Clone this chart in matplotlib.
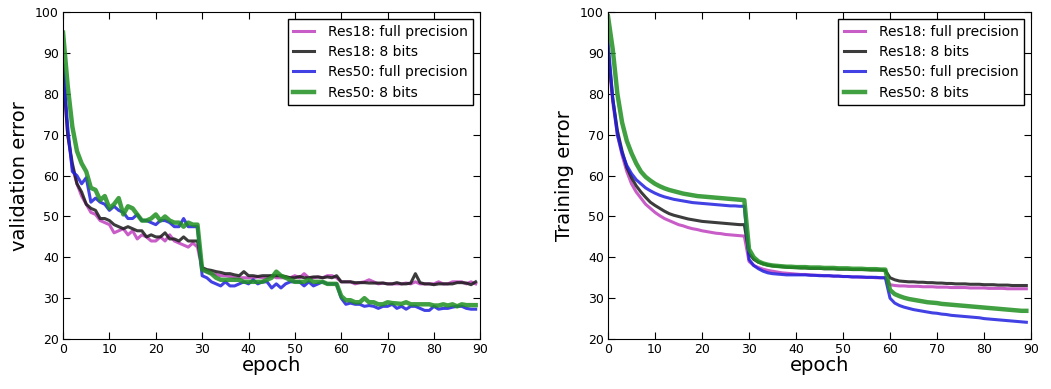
import matplotlib
matplotlib.use("Agg")
import matplotlib.pyplot as plt
import numpy as np

epochs = list(range(90))

labels = ["Res18: full precision", "Res18: 8 bits", "Res50: full precision", "Res50: 8 bits"]

val_res18_full = [85, 70, 62, 58, 55, 53, 51, 50.5, 49, 48.5,
                  48, 46, 46.5, 47, 45.5, 46.5, 44.5, 45.5, 45, 44,
                  44, 45, 44, 45.5, 44, 43.5, 43, 42.5, 43.5, 42.5,
                  37, 36.5, 36, 35.8, 35.5, 35.5, 35.3, 35, 35, 35,
                  35, 35, 35.2, 35, 35, 35.5, 35, 35, 35, 35,
                  35.5, 35, 36, 35, 35, 35.2, 35, 35.5, 35.5, 35,
                  34, 34, 34, 33.5, 33.8, 34, 34.5, 34, 33.5, 33.7,
                  33.5, 33.5, 33.5, 33.5, 33.7, 33.5, 34, 33.5, 33.5, 33.5,
                  33.5, 34, 33.5, 33.5, 34, 34, 34, 33.5, 34, 33.5]
val_res18_8bit = [86, 70, 63, 58, 56, 53, 52, 51.5, 49.5, 49.5,
                  49, 48, 47.5, 47, 47.5, 47, 46.5, 46.5, 45, 45.5,
                  45, 45, 46, 44.5, 44.5, 44, 45, 44, 44, 44,
                  37.5, 37, 36.8, 36.5, 36.3, 36, 36, 35.7, 35.5, 36.5,
                  35.5, 35.5, 35.3, 35.5, 35.5, 35.5, 35.5, 35.5, 35.3, 35,
                  35, 35.3, 35, 35, 35.2, 35.2, 35, 35.2, 35, 35.5,
                  34, 34, 34, 33.8, 33.8, 33.8, 33.7, 33.7, 33.7, 33.7,
                  33.5, 33.5, 33.8, 33.5, 33.5, 33.7, 36, 33.8, 33.5, 33.5,
                  33.3, 33.5, 33.5, 33.5, 33.5, 33.8, 33.8, 33.7, 33.3, 34]
val_res50_full = [87, 72, 61, 60, 58, 59.5, 53.5, 54.5, 53.5, 53,
                  51.5, 52.5, 51.5, 51, 49.5, 49.5, 50.5, 49, 49, 48.5,
                  48, 49, 49, 48.5, 47.5, 47.5, 49.5, 47.5, 47.5, 47.5,
                  35.5, 35, 34, 33.5, 33, 34, 33, 33, 33.5, 34,
                  33.5, 34.5, 33.5, 34, 34, 32.5, 33.5, 32.5, 33.5, 34,
                  34, 34, 33, 34, 33, 33.5, 34, 33.5, 33.5, 33.5,
                  30, 28.5, 28.8, 28.5, 28.5, 28, 28.2, 28, 27.5, 28,
                  28, 28.5, 27.5, 28, 27.3, 28, 28, 27.5, 27, 27,
                  28, 27.3, 27.5, 27.5, 27.8, 28, 28, 27.5, 27.3, 27.3]
val_res50_8bit = [95, 82, 72, 66, 63, 61, 57, 56.5, 54, 55,
                  52, 53, 54.5, 50.5, 52.5, 52, 50.5, 49, 49, 49.5,
                  50.5, 49, 50, 49, 48.5, 48.5, 47.5, 48.5, 48, 48,
                  37, 36.5, 36, 35, 34.5, 34.5, 34.5, 34.5, 34.5, 34,
                  34, 34, 34, 34, 34.5, 35, 36.5, 35.5, 35, 34.5,
                  34, 34, 34, 34.5, 34, 34, 34, 33.5, 33.5, 33.5,
                  30.5, 29.5, 29.5, 29, 29, 30, 29, 29, 28.5, 28.5,
                  29, 28.8, 28.7, 28.6, 29, 28.5, 28.5, 28.5, 28.5, 28.5,
                  28.2, 28.2, 28.5, 28.2, 28.5, 28, 28.5, 28.3, 28.3, 28.3]

tr_res18_full = [90, 78, 70, 65, 61, 58, 56, 54.5, 53, 52,
                 51, 50.2, 49.5, 49, 48.5, 48, 47.7, 47.3, 47, 46.8,
                 46.5, 46.3, 46.1, 45.9, 45.8, 45.6, 45.5, 45.4, 45.3, 45.2,
                 39, 38, 37.5, 37.1, 36.8, 36.6, 36.4, 36.2, 36.1, 36,
                 35.9, 35.8, 35.8, 35.7, 35.6, 35.6, 35.5, 35.5, 35.4, 35.4,
                 35.3, 35.3, 35.2, 35.2, 35.1, 35.1, 35.1, 35, 35, 35,
                 33.3, 33.1, 33, 33, 32.9, 32.9, 32.9, 32.8, 32.8, 32.8,
                 32.7, 32.7, 32.7, 32.6, 32.6, 32.6, 32.6, 32.5, 32.5, 32.5,
                 32.5, 32.4, 32.4, 32.4, 32.4, 32.3, 32.3, 32.3, 32.3, 32.3]
tr_res18_8bit = [91, 79, 71, 66, 62, 59.5, 57.5, 56, 54.7, 53.5,
                 52.7, 52, 51.3, 50.7, 50.3, 50, 49.7, 49.4, 49.2, 49,
                 48.8, 48.7, 48.6, 48.5, 48.4, 48.3, 48.2, 48.1, 48, 48,
                 41, 39.5, 38.8, 38.4, 38.1, 37.9, 37.8, 37.7, 37.6, 37.5,
                 37.5, 37.4, 37.4, 37.3, 37.3, 37.3, 37.2, 37.2, 37.2, 37.1,
                 37.1, 37.1, 37, 37, 37, 37, 36.9, 36.9, 36.9, 36.8,
                 35, 34.5, 34.2, 34.1, 34, 34, 33.9, 33.9, 33.8, 33.8,
                 33.7, 33.7, 33.6, 33.6, 33.5, 33.5, 33.5, 33.4, 33.4, 33.4,
                 33.3, 33.3, 33.3, 33.2, 33.2, 33.2, 33.1, 33.1, 33.1, 33.1]
tr_res50_full = [93, 79, 70, 65.5, 62.5, 60.5, 59, 58, 57, 56.3,
                 55.7, 55.2, 54.8, 54.5, 54.2, 54, 53.8, 53.6, 53.4, 53.3,
                 53.2, 53.1, 53, 52.9, 52.8, 52.7, 52.6, 52.6, 52.5, 52.5,
                 39.5, 38, 37.2, 36.6, 36.2, 36, 35.9, 35.8, 35.7, 35.7,
                 35.7, 35.7, 35.7, 35.6, 35.6, 35.5, 35.5, 35.5, 35.4, 35.4,
                 35.3, 35.3, 35.2, 35.2, 35.2, 35.1, 35.1, 35.1, 35, 35,
                 30, 28.8, 28.2, 27.8, 27.5, 27.2, 27, 26.8, 26.6, 26.4,
                 26.3, 26.1, 26, 25.8, 25.7, 25.6, 25.5, 25.4, 25.3, 25.2,
                 25, 24.9, 24.8, 24.7, 24.6, 24.5, 24.4, 24.3, 24.2, 24.1]
tr_res50_8bit = [99, 91, 80, 73, 68.5, 65.5, 63, 61, 59.7, 58.8,
                 58, 57.4, 56.9, 56.5, 56.2, 55.9, 55.6, 55.4, 55.2, 55,
                 54.9, 54.8, 54.7, 54.6, 54.5, 54.4, 54.3, 54.2, 54.1, 54,
                 42, 40, 39, 38.5, 38.2, 38, 37.9, 37.8, 37.7, 37.7,
                 37.6, 37.6, 37.6, 37.5, 37.5, 37.5, 37.4, 37.4, 37.4, 37.3,
                 37.3, 37.3, 37.2, 37.2, 37.2, 37.1, 37.1, 37.1, 37, 37,
                 32, 31, 30.5, 30.1, 29.8, 29.6, 29.4, 29.2, 29, 28.9,
                 28.8, 28.6, 28.5, 28.4, 28.3, 28.2, 28.1, 28, 27.9, 27.8,
                 27.7, 27.6, 27.5, 27.4, 27.3, 27.2, 27.1, 27, 26.9, 26.9]

colors = ["#bf40bf", "#1a1a1a", "#2020e0", "#209020"]
widths = [2.2, 2.2, 2.2, 3.2]

fig = plt.figure(figsize=(10.51, 3.89), dpi=100)
ax1 = fig.add_axes([0.060, 0.1285, 0.397, 0.840])
ax2 = fig.add_axes([0.5785, 0.1285, 0.4025, 0.840])

def draw(ax, series, ylabel):
    for s, lab, c, w in zip(series, labels, colors, widths):
        ax.plot(epochs, s, color=c, lw=w, alpha=0.85, label=lab)
    ax.set_xlim(0, 90)
    ax.set_ylim(20, 100)
    ax.set_xticks(range(0, 91, 10))
    ax.set_yticks(range(20, 101, 10))
    ax.tick_params(direction="in", top=True, right=True, labelsize=9, length=5, pad=3)
    ax.set_xlabel("epoch", fontsize=14, labelpad=0)
    ax.set_ylabel(ylabel, fontsize=14, labelpad=4)
    leg = ax.legend(loc="upper right", fontsize=10, fancybox=False, framealpha=1,
                    edgecolor="black", handlelength=1.5, borderpad=0.4,
                    labelspacing=0.45, handletextpad=1.0, borderaxespad=0.5)
    leg.get_frame().set_linewidth(1.0)

draw(ax1, [val_res18_full, val_res18_8bit, val_res50_full, val_res50_8bit], "validation error")
draw(ax2, [tr_res18_full, tr_res18_8bit, tr_res50_full, tr_res50_8bit], "Training error")

fig.savefig("out.png", dpi=100)
